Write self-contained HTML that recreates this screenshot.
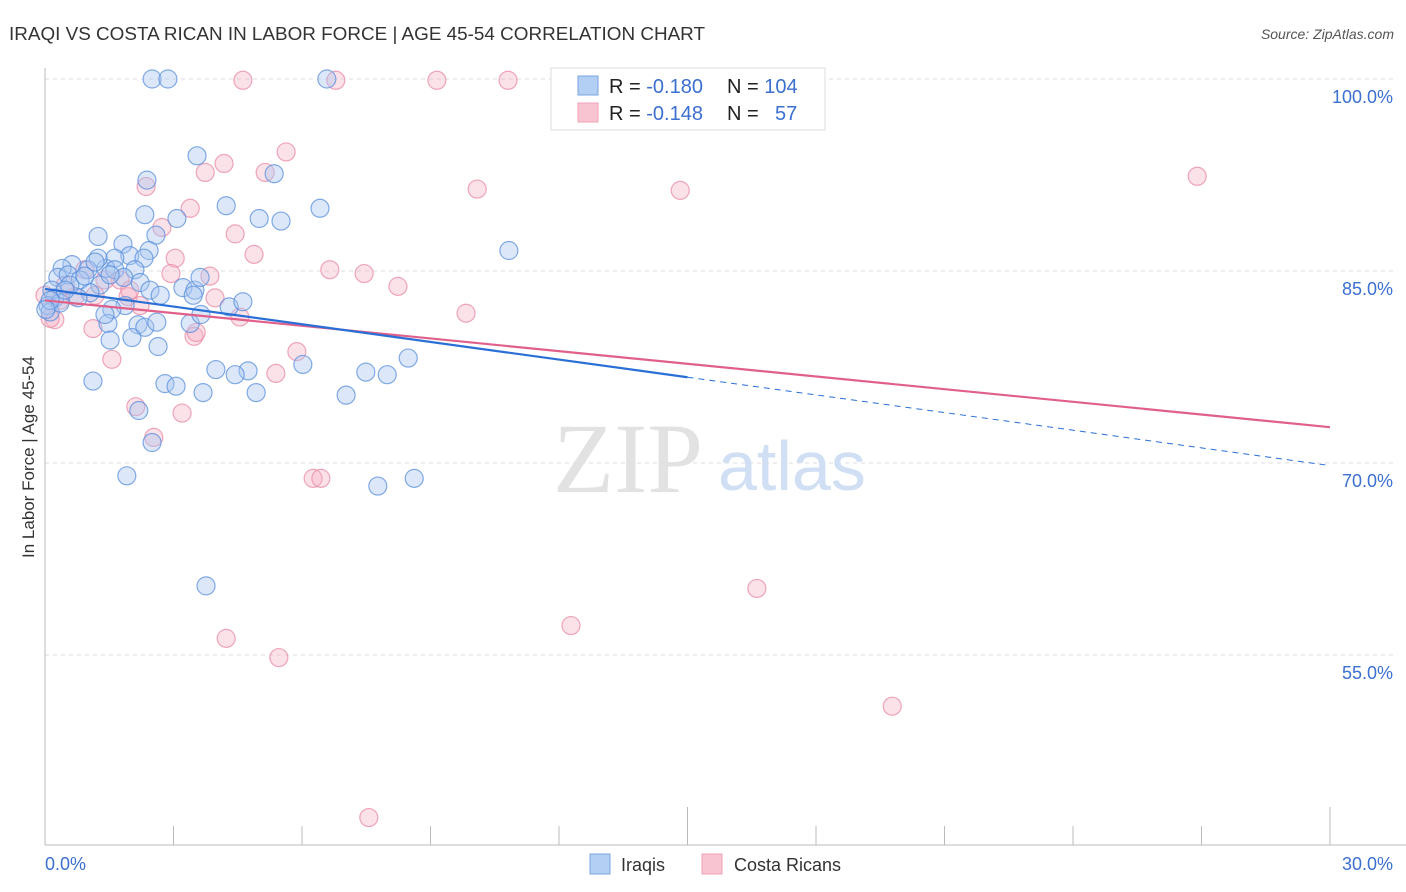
<!DOCTYPE html>
<html><head><meta charset="utf-8"><style>
body{margin:0;background:#fff;font-family:"Liberation Sans",sans-serif}
svg{display:block}
</style></head><body>
<svg width="1406" height="892" xmlns="http://www.w3.org/2000/svg" id="chart">
<text x="9" y="40" font-size="18" fill="#333" textLength="696" lengthAdjust="spacingAndGlyphs">IRAQI VS COSTA RICAN IN LABOR FORCE | AGE 45-54 CORRELATION CHART</text>
<text x="1394" y="39" font-size="14" font-style="italic" fill="#555" text-anchor="end">Source: ZipAtlas.com</text>
<g id="grid"></g>
<text x="553" y="492" font-size="100" font-family="Liberation Serif,serif" fill="#e2e2e2">ZIP</text>
<text x="718" y="490" font-size="70" fill="#d0dff4">atlas</text>
<g id="axes"></g>
<g id="pts"></g>
<g id="trend"></g>
<text x="34" y="457" font-size="17" fill="#333" text-anchor="middle" transform="rotate(-90 34 457)">In Labor Force | Age 45-54</text>
<text x="45" y="870" font-size="18" fill="#3b6fd0">0.0%</text>
<text x="1393" y="870" font-size="18" fill="#3b6fd0" text-anchor="end">30.0%</text>
<g>
<rect x="551" y="68" width="274" height="62" fill="#fff" stroke="#ddd"/>
<rect x="578" y="76" width="20" height="19" fill="#b3cff3" stroke="#7aa6e0"/>
<rect x="578" y="103" width="20" height="19" fill="#f9c4d2" stroke="#eea0b6"/>
<text x="609" y="93" font-size="20" fill="#222">R = <tspan fill="#3b6fd0">-0.180</tspan><tspan x="727">N = </tspan><tspan fill="#3b6fd0">104</tspan></text>
<text x="609" y="120" font-size="20" fill="#222">R = <tspan fill="#3b6fd0">-0.148</tspan><tspan x="727">N = </tspan><tspan x="775" fill="#3b6fd0">57</tspan></text>
</g>
<g>
<rect x="590" y="854" width="20" height="20" fill="#b3cff3" stroke="#7aa6e0"/>
<text x="621" y="871" font-size="18" fill="#333">Iraqis</text>
<rect x="702" y="854" width="20" height="20" fill="#f9c4d2" stroke="#eea0b6"/>
<text x="734" y="871" font-size="18" fill="#333">Costa Ricans</text>
</g>
</svg>
<script>
const yTicks=[100,85,70,55];
const yTickLabels=["100.0%","85.0%","70.0%","55.0%"];
const xTicks=[0,3,6,9,12,15,18,21,24,27,30];
const iraqiX=[2.50,2.87,6.58,3.55,2.38,5.35,2.33,3.08,4.23,5.00,5.51,6.42,1.24,2.59,1.82,2.43,1.98,2.31,1.63,1.42,1.24,0.63,0.40,0.30,0.54,1.00,0.82,1.63,2.10,1.84,1.28,1.05,0.77,0.23,0.16,0.07,0.12,0.35,2.22,2.45,2.69,3.22,3.50,3.46,3.62,1.87,1.56,1.47,1.40,2.17,2.33,2.61,2.03,1.52,2.64,3.39,3.64,4.30,4.62,10.83,8.48,6.02,7.49,7.99,4.74,4.44,3.99,2.80,3.06,3.69,4.93,7.03,1.12,2.19,2.50,1.91,7.77,8.62,3.76,0.12,0.02,0.58,0.93,1.17,1.52,0.47];
const iraqiY=[100,100,100,94.0,92.1,92.6,89.4,89.1,90.1,89.1,88.9,89.9,87.7,87.8,87.1,86.6,86.2,86.0,86.0,85.2,86.0,85.5,85.2,84.5,84.7,85.1,84.3,85.1,85.1,84.5,83.9,83.3,82.9,82.9,83.5,82.3,81.8,82.5,84.1,83.5,83.1,83.7,83.5,83.1,84.5,82.3,82.0,80.9,81.6,80.8,80.6,81.0,79.8,79.6,79.1,80.9,81.6,82.2,82.6,86.6,78.2,77.7,77.1,76.9,77.2,76.9,77.3,76.2,76.0,75.5,75.5,75.3,76.4,74.1,71.6,69.0,68.2,68.8,60.4,82.7,82.0,83.9,84.6,85.7,84.7,83.5];
const costaX=[4.62,6.79,9.15,10.81,5.63,4.18,3.74,5.14,2.36,10.09,14.83,26.90,3.39,2.73,4.44,4.88,3.04,6.65,7.45,3.85,2.94,8.24,3.97,1.94,1.75,9.83,4.55,3.48,3.53,1.12,1.56,5.88,5.39,2.12,3.20,2.54,6.26,6.44,16.62,12.28,4.23,5.46,19.78,7.56,0.23,0.12,0.35,0.70,1.17,0,0.93,0.47,1.40,1.98,2.22];
const costaY=[99.9,99.9,99.9,99.9,94.3,93.4,92.7,92.7,91.6,91.4,91.3,92.4,89.9,88.4,87.9,86.3,86.0,85.1,84.8,84.6,84.8,83.8,82.9,83.0,84.3,81.7,81.4,79.9,80.2,80.5,78.1,78.7,77.0,74.4,73.9,72.0,68.8,68.8,60.2,57.3,56.3,54.8,51.0,42.3,81.2,81.3,82.7,83.0,83.1,83.1,85.1,83.9,84.3,83.5,82.3];
const iraqiTrend=[83.6,69.8];
const costaTrend=[82.7,72.8];
const NS="http://www.w3.org/2000/svg";
const X=v=>45+v*(1285/30);
const Y=v=>79+(100-v)*12.8;
function mk(tag,attrs,parent){const e=document.createElementNS(NS,tag);for(const k in attrs)e.setAttribute(k,attrs[k]);document.getElementById(parent).appendChild(e);return e;}
yTicks.forEach((t,i)=>{
  const l=mk('line',{x1:45,x2:1393,y1:Y(t),y2:Y(t),stroke:'#ddd','stroke-dasharray':'4 4'},'grid');
  
  
  const tx=mk('text',{x:1393,y:Y(t)+24,'font-size':18,fill:'#3b6fd0','text-anchor':'end'},'grid');
  tx.textContent=yTickLabels[i];
  
  
});
const ya=mk('line',{x1:45,x2:45,y1:68,y2:845,stroke:'#bbb'},'axes');


const xa=mk('line',{x1:45,x2:1406,y1:845,y2:845,stroke:'#bbb'},'axes');


xTicks.forEach(t=>{
  const major=(t%15===0&&t>0);
  const l=mk('line',{x1:X(t),x2:X(t),y1:major?807:826,y2:845,stroke:'#bbb'},'axes');
  
  
});
function dots(xs,ys,fill,stroke,name){
  xs.forEach((x,i)=>{
    const c=mk('circle',{cx:X(x),cy:Y(ys[i]),r:9,fill:fill,'fill-opacity':0.4,stroke:stroke,'stroke-opacity':0.75,'stroke-width':1.2},'pts');
    
    
  });
}
dots(costaX,costaY,'#f4b3c6','#e88aa6','costa-rican-point');
dots(iraqiX,iraqiY,'#a8c6f0','#5a8fdc','iraqi-point');
const yAt=(tr,x)=>tr[0]+(tr[1]-tr[0])*x/30;
const p1=mk('line',{x1:X(0),y1:Y(costaTrend[0]),x2:X(30),y2:Y(costaTrend[1]),stroke:'#e0608a','stroke-width':2.2},'trend');


const b1=mk('line',{x1:X(0),y1:Y(iraqiTrend[0]),x2:X(15),y2:Y(yAt(iraqiTrend,15)),stroke:'#2a6fd6','stroke-width':2.2},'trend');


const b2=mk('line',{x1:X(15),y1:Y(yAt(iraqiTrend,15)),x2:X(30),y2:Y(iraqiTrend[1]),stroke:'#2a6fd6','stroke-width':1,'stroke-dasharray':'6 5'},'trend');


</script>
</body></html>
